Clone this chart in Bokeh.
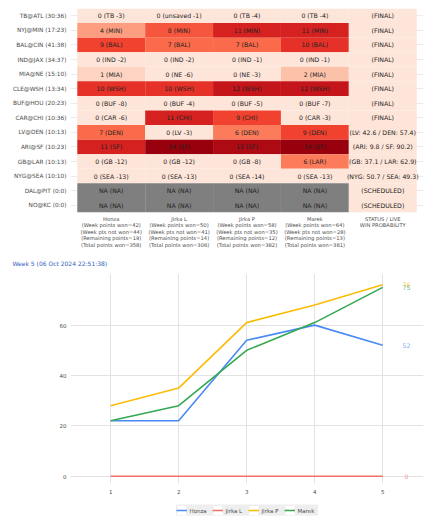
from bokeh.plotting import figure
from bokeh.models import ColumnDataSource, FixedTicker, Range1d, Legend, LegendItem
from bokeh.layouts import column
from bokeh.embed import file_html
from bokeh.resources import INLINE
from bokeh.core.properties import value

# ---------------- data ----------------
games = ["TB@ATL (30:36)", "NYJ@MIN (17:23)", "BAL@CIN (41:38)", "IND@JAX (34:37)",
         "MIA@NE (15:10)", "CLE@WSH (13:34)", "BUF@HOU (20:23)", "CAR@CHI (10:36)",
         "LV@DEN (10:13)", "ARI@SF (10:23)", "GB@LAR (10:13)", "NYG@SEA (10:10)",
         "DAL@PIT (0:0)", "NO@KC (0:0)"]
players = ["Honza", "Jirka L", "Jirka P", "Marek"]

honza_pts = [0, 4, 9, 0, 1, 10, 0, 0, 7, 11, 0, 0, None, None]
honza_tag = ["TB -3", "MIN", "BAL", "IND -2", "MIA", "WSH", "BUF -8", "CAR -6", "DEN", "SF", "GB -12", "SEA -13", "NA", "NA"]
jirkal_pts = [0, 8, 7, 0, 0, 10, 0, 11, 0, 14, 0, 0, None, None]
jirkal_tag = ["unsaved -1", "MIN", "BAL", "IND -2", "NE -6", "WSH", "BUF -4", "CHI", "LV -3", "SF", "GB -12", "SEA -13", "NA", "NA"]
jirkap_pts = [0, 11, 7, 0, 0, 12, 0, 9, 6, 13, 0, 0, None, None]
jirkap_tag = ["TB -4", "MIN", "BAL", "IND -1", "NE -3", "WSH", "BUF -5", "CHI", "DEN", "SF", "GB -8", "SEA -14", "NA", "NA"]
marek_pts = [0, 11, 10, 0, 2, 12, 0, 0, 9, 14, 6, 0, None, None]
marek_tag = ["TB -4", "MIN", "BAL", "IND -1", "MIA", "WSH", "BUF -7", "CAR -3", "DEN", "SF", "LAR", "SEA -13", "NA", "NA"]
status = ["(FINAL)", "(FINAL)", "(FINAL)", "(FINAL)", "(FINAL)", "(FINAL)", "(FINAL)", "(FINAL)",
          "(LV: 42.6 / DEN: 57.4)", "(ARI: 9.8 / SF: 90.2)", "(GB: 37.1 / LAR: 62.9)",
          "(NYG: 50.7 / SEA: 49.3)", "(SCHEDULED)", "(SCHEDULED)"]

week_won = [42, 50, 58, 64]
week_not_won = [44, 41, 35, 28]
remaining = [19, 14, 12, 13]
total_won = [358, 306, 382, 381]
status_header = "STATUS / LIVE\nWIN PROBABILITY"

weeks = [1, 2, 3, 4, 5]
honza_cum = [22, 22, 54, 60, 52]
jirkal_cum = [0, 0, 0, 0, 0]
jirkap_cum = [28, 35, 61, 68, 76]
marek_cum = [22, 28, 50, 61, 75]
y_ticks = [0, 20, 40, 60]
title_text = "Week 5 (06 Oct 2024 22:51:38)"

# ---------------- styles ----------------
FONT = value("DejaVu Sans")
REDS = ["#fee5d9", "#fcbba1", "#fc9272", "#fb6a4a", "#ef3b2c", "#cb181d", "#99000d"]
NA_COLOR = "#7f7f7f"
GRID = "#ebebeb"
TXT = "#4d4d4d"
LINE_COLORS = ["#4a8af4", "#f07168", "#fbbc05", "#34a853"]


def hex2rgb(h):
    h = h.lstrip("#")
    return tuple(int(h[i:i + 2], 16) for i in (0, 2, 4))


def red_scale(v, vmax):
    t = max(0.0, min(1.0, v / vmax)) * (len(REDS) - 1)
    i = min(int(t), len(REDS) - 2)
    f = t - i
    a, b = hex2rgb(REDS[i]), hex2rgb(REDS[i + 1])
    c = [round(a[k] + (b[k] - a[k]) * f) for k in range(3)]
    return "#%02x%02x%02x" % tuple(c)


all_pts = [honza_pts, jirkal_pts, jirkap_pts, marek_pts]
all_tags = [honza_tag, jirkal_tag, jirkap_tag, marek_tag]
vmax = max(v for col in all_pts for v in col if v is not None)
n = len(games)

xs, ys, cols, labels = [], [], [], []
for c, (pts, tags) in enumerate(zip(all_pts, all_tags)):
    for i, (v, t) in enumerate(zip(pts, tags)):
        xs.append(c + 1)
        ys.append(n - i)
        if v is None:
            cols.append(NA_COLOR)
            labels.append("NA (NA)")
        else:
            cols.append(red_scale(v, vmax))
            labels.append(f"{v} ({t})")
for i, s in enumerate(status):
    xs.append(len(players) + 1)
    ys.append(n - i)
    cols.append(red_scale(0, vmax))
    labels.append(s)

src = ColumnDataSource(dict(x=xs, y=ys, color=cols, label=labels))

ncol = len(players) + 1
p1 = figure(width=419, height=242, x_range=Range1d(0.4, ncol + 0.6), y_range=Range1d(0.5, n + 0.5),
            output_backend="svg", toolbar_location=None,
            min_border_left=62, min_border_right=3, min_border_top=0, min_border_bottom=34)
p1.outline_line_color = None
p1.rect(x="x", y="y", width=1, height=1, fill_color="color", line_color=None, source=src)
p1.text(x="x", y="y", text="label", text_align="center", text_baseline="middle",
        text_font=FONT, text_font_size="6.2px", text_color="#222222", source=src)

p1.yaxis.ticker = FixedTicker(ticks=list(range(1, n + 1)))
p1.yaxis.major_label_overrides = {n - i: g for i, g in enumerate(games)}
p1.xaxis.ticker = FixedTicker(ticks=list(range(1, ncol + 1)))
xl = {}
for c, name in enumerate(players):
    xl[c + 1] = (f"{name}\n(Week points won={week_won[c]})\n(Week pts not won={week_not_won[c]})\n"
                 f"(Remaining points={remaining[c]})\n(Total points won={total_won[c]})")
xl[ncol] = status_header
p1.xaxis.major_label_overrides = xl
for ax in (p1.xaxis[0], p1.yaxis[0]):
    ax.axis_line_color = None
    ax.major_tick_line_color = None
    ax.minor_tick_line_color = None
    ax.major_tick_out = 0
    ax.major_tick_in = 0
    ax.major_label_text_font = "DejaVu Sans"
    ax.major_label_text_color = TXT
p1.yaxis.major_label_text_font_size = "5.8px"
p1.yaxis.major_label_standoff = 4
p1.xaxis.major_label_text_font_size = "5.2px"
p1.xaxis.major_label_text_line_height = 1.1
p1.xaxis.major_label_standoff = 3
p1.xgrid.grid_line_color = GRID
p1.ygrid.grid_line_color = GRID
p1.xgrid.ticker = p1.xaxis.ticker
p1.ygrid.ticker = p1.yaxis.ticker

# ---------------- line chart ----------------
p2 = figure(width=419, height=248, x_range=Range1d(0.41, 5.6), y_range=Range1d(-2.9, 80.5),
            output_backend="svg", toolbar_location=None, title=title_text,
            min_border_left=62, min_border_right=4, min_border_top=0, min_border_bottom=15)
p2.outline_line_color = None
p2.title.text_font = "DejaVu Sans"
p2.title.text_font_size = "6px"
p2.title.text_font_style = "normal"
p2.title.text_color = "#3560c0"
p2.title.align = "left"
p2.title.offset = -58
p2.title.standoff = 14

series = [honza_cum, jirkal_cum, jirkap_cum, marek_cum]
for vals, colr in zip(series, LINE_COLORS):
    p2.line(weeks, vals, line_color=colr, line_width=1.6)

end_x = [weeks[-1] + 0.35] * len(players)
end_y = [s[-1] for s in series]
p2.text(x=end_x, y=end_y, text=[str(v) for v in end_y], text_color=LINE_COLORS,
        text_alpha=0.75, text_align="center", text_baseline="middle",
        text_font=FONT, text_font_size="6.2px")

p2.xaxis.ticker = FixedTicker(ticks=weeks)
p2.yaxis.ticker = FixedTicker(ticks=y_ticks)
for ax in (p2.xaxis[0], p2.yaxis[0]):
    ax.axis_line_color = None
    ax.major_tick_line_color = None
    ax.minor_tick_line_color = None
    ax.major_tick_out = 0
    ax.major_tick_in = 0
    ax.major_label_text_font = "DejaVu Sans"
    ax.major_label_text_font_size = "5.5px"
    ax.major_label_text_color = TXT
p2.yaxis.major_label_standoff = 4
p2.xaxis.major_label_standoff = 5
p2.xgrid.grid_line_color = "#e3e3e3"
p2.ygrid.grid_line_color = "#e3e3e3"

# ---------------- legend strip ----------------
# the series are drawn here only as legend keys; the ranges keep them out of view
p3 = figure(width=419, height=24, x_range=Range1d(-1, 0), y_range=Range1d(-1, 0),
            output_backend="svg", toolbar_location=None, x_axis_type=None, y_axis_type=None,
            min_border_left=62, min_border_right=4, min_border_top=0, min_border_bottom=0)
p3.outline_line_color = None
p3.grid.visible = False
items = []
for name, vals, colr in zip(players, series, LINE_COLORS):
    key = p3.rect(x=weeks, y=vals, width=0, height=0, fill_color="white", line_color=None)
    ln = p3.line(x=weeks, y=vals, line_color=colr, line_width=1.6)
    items.append(LegendItem(label=name, renderers=[key, ln]))
legend = Legend(items=items, orientation="horizontal", location="center",
                glyph_width=11, glyph_height=11, label_standoff=3, spacing=2,
                padding=3, margin=0, background_fill_color="#eeeeee", background_fill_alpha=1,
                border_line_color=None, label_text_font="DejaVu Sans",
                label_text_font_size="5.5px", label_text_color=TXT)
p3.add_layout(legend)

layout = column(p1, p2, p3, spacing=0, margin=(8, 0, 0, 8))
open("out.html", "w").write(file_html(layout, INLINE))
